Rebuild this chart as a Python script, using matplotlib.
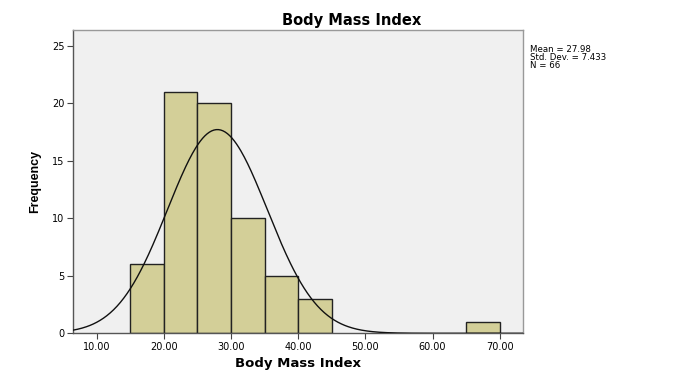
import numpy as np
import matplotlib.pyplot as plt

plt.rcParams["font.family"] = ["DejaVu Sans"]

# histogram bins (BMI) and counts
bin_edges = [15, 20, 25, 30, 35, 40, 45, 50, 55, 60, 65, 70]
counts = [6, 21, 20, 10, 5, 3, 0, 0, 0, 0, 1]
mean_bmi = 27.98
sd_bmi = 7.433
n = 66
x_ticks = [10, 20, 30, 40, 50, 60, 70]
y_ticks = [0, 5, 10, 15, 20, 25]

fig = plt.figure(figsize=(6.92, 3.81), dpi=100)
ax = fig.add_axes([0.1055, 0.1252, 0.6498, 0.7961])
ax.set_facecolor("#f0f0f0")

lefts = bin_edges[:-1]
widths = np.diff(bin_edges)
for l, w, c in zip(lefts, widths, counts):
    if c > 0:
        ax.bar(l, c, width=w, align="edge", color="#d3cf98",
               edgecolor="#222222", linewidth=1.0, zorder=2)

# normal curve scaled to counts
xs = np.linspace(6.5, 73.4, 400)
bw = 5
ys = n * bw / (sd_bmi * np.sqrt(2 * np.pi)) * np.exp(-0.5 * ((xs - mean_bmi) / sd_bmi) ** 2)
ax.plot(xs, ys, color="#111111", linewidth=1.0, zorder=3)

ax.set_xlim(6.5, 73.4)
ax.set_ylim(0, 26.37)
ax.set_xticks(x_ticks)
ax.set_xticklabels([f"{t:.2f}" for t in x_ticks], fontsize=7)
ax.set_yticks(y_ticks)
ax.set_yticklabels([str(t) for t in y_ticks], fontsize=7)
ax.tick_params(direction="out", length=4.5, width=0.8, color="#444444", pad=1.5)

for s in ax.spines.values():
    s.set_color("#999999")
    s.set_linewidth(1.0)
ax.spines["left"].set_color("#555555")
ax.spines["bottom"].set_color("#555555")

# SPSS centres the title on the whole chart, not the plot area
fig.text(0.5087, 0.934, "Body Mass Index", fontsize=10.5, fontweight="bold",
         ha="center", va="baseline")
ax.set_xlabel("Body Mass Index", fontsize=9.5, fontweight="bold", labelpad=4)
ax.set_ylabel("Frequency", fontsize=9, fontweight="bold", labelpad=8,
              family="Liberation Sans")

stats = [f"Mean = {mean_bmi}", f"Std. Dev. = {sd_bmi}", f"N = {n}"]
for i, line in enumerate(stats):
    fig.text(530 / 692, 1 - (45 + 8.0 * i) / 381, line, fontsize=6.2,
             ha="left", va="top")

fig.savefig("out.png", dpi=100)
